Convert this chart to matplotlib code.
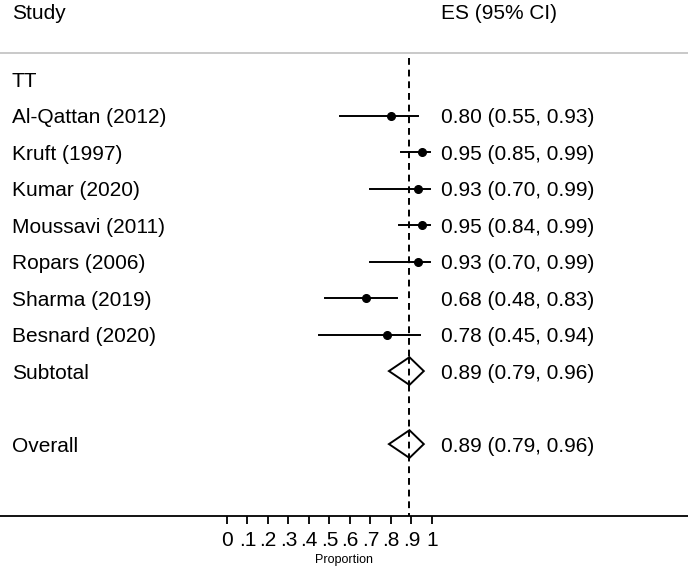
import matplotlib
matplotlib.use("Agg")
from matplotlib import pyplot as plt

plt.rcParams["font.family"] = ["Liberation Sans", "DejaVu Sans"]

studies = ["Al-Qattan (2012)", "Kruft (1997)", "Kumar (2020)", "Moussavi (2011)",
           "Ropars (2006)", "Sharma (2019)", "Besnard (2020)"]
es = [0.80, 0.95, 0.93, 0.95, 0.93, 0.68, 0.78]
lo = [0.55, 0.85, 0.70, 0.84, 0.70, 0.48, 0.45]
hi = [0.93, 0.99, 0.99, 0.99, 0.99, 0.83, 0.94]

subtotal = (0.89, 0.79, 0.96)
overall = (0.89, 0.79, 0.96)
ticks = [0, .1, .2, .3, .4, .5, .6, .7, .8, .9, 1]
tick_labels = ["0", ".1", ".2", ".3", ".4", ".5", ".6", ".7", ".8", ".9", "1"]

FS = 15
VA = "center_baseline"


def fmt(e, l, h):
    return f"{e:.2f} ({l:.2f}, {h:.2f})"


fig = plt.figure(figsize=(6.88, 5.67), dpi=100)
ax = fig.add_axes([0, 51 / 567, 1, 1 - 51 / 567])
ax.set_xlim(-227 / 205, (688 - 227) / 205)
ax.set_ylim(11.97, -2.164)

for s in ["top", "left", "right"]:
    ax.spines[s].set_visible(False)
ax.spines["bottom"].set_linewidth(1.3)
ax.set_yticks([])
ax.set_xticks(ticks)
ax.set_xticklabels(tick_labels, fontsize=FS)
ax.tick_params(axis="x", length=6, width=1.3, pad=5)
ax.set_xlabel("Proportion", fontsize=9, labelpad=3)

lx = -1.049
vx = 1.044
ax.text(lx, -1.84, "Study", fontsize=FS, va=VA)
ax.text(vx, -1.84, "ES (95% CI)", fontsize=FS, va=VA)
ax.axhline(-0.71, color="#c0c0c0", lw=1.2)
ax.plot([overall[0], overall[0]], [-0.575, 11.97], color="black", lw=1.4,
        linestyle=(0, (3.5, 2.5)))

ax.text(lx, 0, "TT", fontsize=FS, va=VA)
for i, name in enumerate(studies):
    r = i + 1
    ax.text(lx, r, name, fontsize=FS, va=VA)
    ax.plot([lo[i], hi[i]], [r, r], color="black", lw=1.4)
    ax.plot(es[i], r, "o", color="black", markersize=5.5)
    ax.text(vx, r, fmt(es[i], lo[i], hi[i]), fontsize=FS, va=VA)

for r, name, (e, l, h) in [(8, "Subtotal", subtotal), (10, "Overall", overall)]:
    ax.text(lx, r, name, fontsize=FS, va=VA)
    ax.fill([l, e, h, e, l], [r, r - 0.38, r, r + 0.38, r], facecolor="white",
            edgecolor="black", lw=1.4, zorder=3)
    ax.plot([e, e], [r - 0.38, r + 0.38], color="black", lw=1.4,
            linestyle=(0, (3.5, 2.5)), zorder=4)
    ax.text(vx, r, fmt(e, l, h), fontsize=FS, va=VA)

fig.savefig("out.png", dpi=100)
